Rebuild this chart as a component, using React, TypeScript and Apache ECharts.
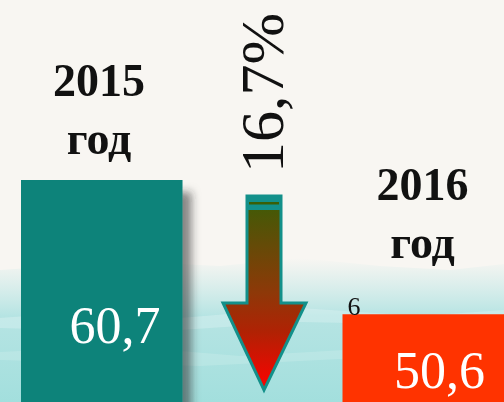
import React, { useEffect, useRef } from "react";
import * as echarts from "echarts";

const categories = ["2015", "", "2016"];
const yearLabels = ["2015\nгод", "", "2016\nгод"];
const values: (number | null)[] = [60.7, null, 50.6];
const changeLabel = "16,7%";
const strayLabel = "6";

const barColors = ["#07837a", "transparent", "#ff3300"];
const valueLabelOffsets: [number, number][] = [[94, 145], [0, 0], [97, 56]];
const yearLabelOffsets: [number, number][] = [[78, -71], [0, 0], [80, -101]];

export default function App() {
  const ref = useRef<HTMLDivElement>(null);
  useEffect(() => {
    if (!ref.current) return;
    const chart = echarts.init(ref.current, undefined, { renderer: "svg" });
    const fmt = (v: number) => String(v).replace(".", ",");
    const mainData = values.map((v, i) =>
      v === null
        ? "-"
        : {
            value: v,
            itemStyle: {
              color: barColors[i],
              shadowColor: i === 0 ? "rgba(40,40,40,0.55)" : "rgba(0,0,0,0)",
              shadowBlur: i === 0 ? 8 : 0,
              shadowOffsetX: i === 0 ? 9 : 0,
              shadowOffsetY: i === 0 ? 12 : 0,
            },
            label: {
              show: true,
              position: valueLabelOffsets[i],
              align: "center",
              verticalAlign: "middle",
              formatter: () => fmt(v),
              color: "#ffffff",
              fontFamily: "Liberation Serif",
              fontSize: 52,
            },
          }
    );
    const ghostData = values.map((v, i) =>
      v === null
        ? "-"
        : {
            value: v,
            itemStyle: { color: "rgba(0,0,0,0)" },
            label: {
              show: true,
              position: yearLabelOffsets[i],
              align: "center",
              verticalAlign: "middle",
              formatter: () => yearLabels[i],
              color: "#111111",
              fontFamily: "Liberation Serif",
              fontWeight: "bold",
              fontSize: 46,
              lineHeight: 58,
            },
          }
    );

    const teal = "#13908a";
    chart.setOption({
      animation: false,
      grid: { left: 21, top: 0, width: 485, bottom: 0 },
      xAxis: { type: "category", data: categories, show: false },
      yAxis: { type: "value", min: 44, max: 74.25, show: false },
      series: [
        {
          type: "bar",
          data: mainData,
          barWidth: 162,
          z: 3,
        },
        {
          type: "bar",
          data: ghostData,
          barWidth: 162,
          barGap: "-100%",
          z: 4,
        },
      ],
      graphic: [
        {
          type: "rect",
          z: -20,
          silent: true,
          shape: { x: 0, y: 0, width: 504, height: 402 },
          style: { fill: "#f8f6f2" },
        },
        {
          type: "polygon",
          z: -19,
          silent: true,
          shape: {
            points: [
              [0, 270], [60, 266], [140, 262], [220, 266], [300, 258],
              [380, 266], [450, 270], [504, 264],
              [504, 402], [0, 402],
            ],
          },
          style: {
            fill: {
              type: "linear", x: 0, y: 0, x2: 0, y2: 1,
              colorStops: [
                { offset: 0, color: "rgba(175,225,225,0)" },
                { offset: 0.18, color: "rgba(170,225,225,0.35)" },
                { offset: 0.4, color: "rgba(160,222,222,0.75)" },
                { offset: 1, color: "rgba(158,222,220,0.95)" },
              ],
            },
          },
        },
        {
          type: "polygon",
          z: -18,
          silent: true,
          shape: {
            points: [[0, 318], [80, 312], [180, 318], [300, 308], [420, 316], [504, 310], [504, 326], [300, 322], [150, 332], [0, 328]],
          },
          style: { fill: "rgba(235,248,247,0.3)" },
        },
        {
          type: "polygon",
          z: -18,
          silent: true,
          shape: {
            points: [[0, 352], [120, 346], [240, 356], [380, 348], [504, 354], [504, 362], [360, 358], [200, 366], [0, 360]],
          },
          style: { fill: "rgba(235,248,247,0.2)" },
        },
        {
          type: "polygon",
          z: 10,
          shape: {
            points: [
              [247, 196], [281, 196], [281, 303], [306, 303], [264, 390],
              [223, 303], [247, 303],
            ],
          },
          style: {
            fill: {
              type: "linear", x: 0, y: 0, x2: 0, y2: 1,
              colorStops: [
                { offset: 0, color: "#3a5e06" },
                { offset: 0.5, color: "#8e3808" },
                { offset: 0.7, color: "#b02204" },
                { offset: 1, color: "#ff0000" },
              ],
            },
            stroke: teal,
            lineWidth: 3,
            lineJoin: "miter",
          },
        },
        {
          type: "rect",
          z: 11,
          shape: { x: 246, y: 195, width: 36, height: 15 },
          style: { fill: teal },
        },
        {
          type: "rect",
          z: 12,
          shape: { x: 249, y: 202, width: 30, height: 2.5 },
          style: { fill: "#3a5e06" },
        },
        {
          type: "text",
          z: 12,
          x: 262,
          y: 93,
          rotation: Math.PI / 2,
          style: {
            text: changeLabel,
            align: "center",
            verticalAlign: "middle",
            fontFamily: "Liberation Serif",
            fontSize: 62,
            fill: "#111111",
          },
        },
        {
          type: "text",
          z: 12,
          x: 354,
          y: 306,
          style: {
            text: strayLabel,
            align: "center",
            verticalAlign: "middle",
            fontFamily: "Liberation Serif",
            fontSize: 26,
            fill: "#111111",
          },
        },
      ],
    });
    return () => chart.dispose();
  }, []);
  return (
    <div
      ref={ref}
      style={{ position: "fixed", left: 0, top: 0, width: 504, height: 402 }}
    />
  );
}
